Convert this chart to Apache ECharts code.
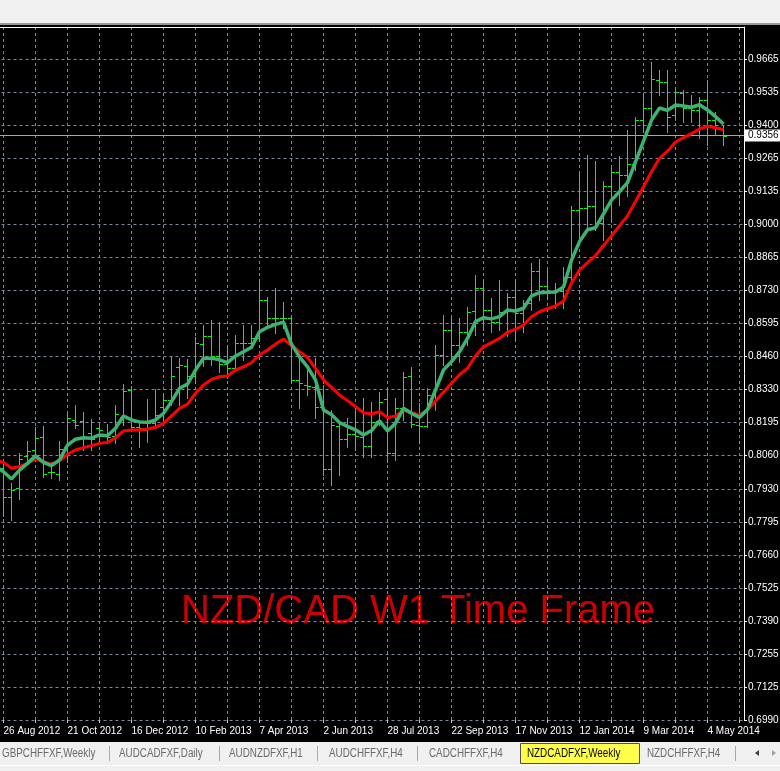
<!DOCTYPE html>
<html>
<head>
<meta charset="utf-8">
<script src="https://cdn.jsdelivr.net/npm/echarts@6/dist/echarts.min.js"></script>
<style>
html,body{margin:0;padding:0;background:#000;}
#c{width:780px;height:771px;}
</style>
</head>
<body>
<div id="c"></div>
<script>
// ---- data (weekly NZD/CAD bars, first entry = week of 19 Aug 2012) ----
const FIRST_WEEK = -1; // week index of first bar, 0 = 26 Aug 2012
const dateLabels = ["26 Aug 2012","21 Oct 2012","16 Dec 2012","10 Feb 2013","7 Apr 2013","2 Jun 2013","28 Jul 2013","22 Sep 2013","17 Nov 2013","12 Jan 2014","9 Mar 2014","4 May 2014"];
const priceLabels = ["0.6990","0.7125","0.7255","0.7390","0.7525","0.7660","0.7795","0.7930","0.8060","0.8195","0.8330","0.8460","0.8595","0.8730","0.8865","0.9000","0.9135","0.9265","0.9400","0.9535","0.9665"];
const priceBase = 0.6990;
const priceStep = 0.013375;
const currentPrice = 0.9356;

const opens = [0.8063,0.8010,0.7893,0.7929,0.8059,0.8083,0.8136,0.7994,0.7986,0.8095,0.8205,0.8201,0.8152,0.8172,0.8148,0.8140,0.8217,0.8326,0.8176,0.8164,0.8192,0.8257,0.8286,0.8419,0.8423,0.8383,0.8512,0.8545,0.8464,0.8431,0.8415,0.8516,0.8516,0.8537,0.8691,0.8618,0.8618,0.8618,0.8367,0.8346,0.8338,0.8257,0.8006,0.8180,0.8128,0.8148,0.8136,0.8099,0.8201,0.8290,0.8071,0.8253,0.8383,0.8184,0.8180,0.8306,0.8468,0.8569,0.8508,0.8561,0.8646,0.8739,0.8650,0.8601,0.8642,0.8703,0.8638,0.8678,0.8808,0.8747,0.8727,0.8727,0.8784,0.9055,0.9063,0.9071,0.9002,0.9152,0.9209,0.9197,0.9241,0.9419,0.9468,0.9581,0.9573,0.9440,0.9529,0.9468,0.9460,0.9500,0.9419,0.9387];
const highs = [0.8083,0.8035,0.7950,0.8071,0.8120,0.8176,0.8180,0.8035,0.8120,0.8229,0.8265,0.8237,0.8209,0.8184,0.8188,0.8265,0.8350,0.8342,0.8197,0.8290,0.8330,0.8314,0.8460,0.8456,0.8452,0.8541,0.8589,0.8610,0.8601,0.8508,0.8549,0.8589,0.8589,0.8776,0.8703,0.8739,0.8682,0.8626,0.8456,0.8407,0.8456,0.8346,0.8245,0.8188,0.8213,0.8253,0.8294,0.8278,0.8318,0.8338,0.8294,0.8399,0.8419,0.8273,0.8334,0.8508,0.8630,0.8618,0.8618,0.8662,0.8792,0.8772,0.8699,0.8772,0.8719,0.8772,0.8691,0.8840,0.8857,0.8824,0.8759,0.8824,0.9071,0.9209,0.9278,0.9253,0.9172,0.9225,0.9274,0.9379,0.9431,0.9520,0.9654,0.9622,0.9622,0.9549,0.9541,0.9520,0.9512,0.9581,0.9452,0.9399];
const lows = [0.7970,0.7816,0.7800,0.7885,0.8031,0.8051,0.7974,0.7970,0.7962,0.8035,0.8172,0.8083,0.8083,0.8116,0.8112,0.8112,0.8184,0.8172,0.8095,0.8116,0.8184,0.8197,0.8265,0.8265,0.8294,0.8354,0.8423,0.8427,0.8399,0.8375,0.8407,0.8448,0.8508,0.8529,0.8589,0.8557,0.8577,0.8359,0.8253,0.8306,0.8213,0.7982,0.7941,0.7982,0.8095,0.8083,0.8055,0.8055,0.8184,0.8035,0.8043,0.8205,0.8176,0.8112,0.8176,0.8245,0.8427,0.8448,0.8440,0.8508,0.8549,0.8569,0.8561,0.8569,0.8545,0.8529,0.8561,0.8650,0.8691,0.8699,0.8658,0.8658,0.8759,0.8933,0.8986,0.8974,0.8933,0.9006,0.9075,0.9112,0.9217,0.9371,0.9431,0.9520,0.9371,0.9419,0.9411,0.9411,0.9346,0.9318,0.9359,0.9318];
const closes = [0.8010,0.7893,0.7921,0.8047,0.8079,0.8132,0.7986,0.7994,0.8087,0.8213,0.8184,0.8136,0.8128,0.8164,0.8136,0.8229,0.8322,0.8176,0.8172,0.8192,0.8225,0.8286,0.8383,0.8427,0.8383,0.8516,0.8545,0.8464,0.8431,0.8415,0.8516,0.8516,0.8537,0.8691,0.8618,0.8618,0.8618,0.8367,0.8354,0.8342,0.8257,0.8006,0.8184,0.8128,0.8148,0.8140,0.8099,0.8197,0.8278,0.8071,0.8253,0.8379,0.8188,0.8180,0.8306,0.8468,0.8569,0.8508,0.8561,0.8642,0.8739,0.8650,0.8601,0.8642,0.8703,0.8638,0.8678,0.8808,0.8747,0.8727,0.8727,0.8784,0.9055,0.9063,0.9071,0.8998,0.9152,0.9209,0.9197,0.9241,0.9419,0.9468,0.9585,0.9573,0.9431,0.9533,0.9468,0.9460,0.9500,0.9419,0.9387,0.9356];
const fastMA = [0.8018,0.7995,0.7966,0.8002,0.8029,0.8060,0.8033,0.8020,0.8043,0.8103,0.8127,0.8133,0.8131,0.8144,0.8141,0.8171,0.8221,0.8205,0.8197,0.8195,0.8205,0.8232,0.8279,0.8333,0.8350,0.8407,0.8455,0.8455,0.8448,0.8437,0.8464,0.8481,0.8499,0.8562,0.8580,0.8592,0.8601,0.8512,0.8460,0.8420,0.8367,0.8245,0.8227,0.8194,0.8179,0.8165,0.8144,0.8162,0.8201,0.8160,0.8191,0.8252,0.8232,0.8215,0.8247,0.8326,0.8407,0.8441,0.8481,0.8535,0.8603,0.8619,0.8614,0.8623,0.8650,0.8646,0.8657,0.8707,0.8720,0.8722,0.8723,0.8743,0.8852,0.8927,0.8975,0.8983,0.9039,0.9095,0.9129,0.9166,0.9250,0.9334,0.9419,0.9468,0.9458,0.9480,0.9476,0.9471,0.9481,0.9460,0.9433,0.9403];
const slowMA = [0.8043,0.8033,0.8009,0.8016,0.8029,0.8046,0.8036,0.8025,0.8039,0.8066,0.8083,0.8093,0.8101,0.8110,0.8114,0.8133,0.8160,0.8164,0.8164,0.8168,0.8175,0.8191,0.8221,0.8252,0.8269,0.8313,0.8346,0.8369,0.8380,0.8383,0.8407,0.8420,0.8437,0.8468,0.8488,0.8512,0.8532,0.8506,0.8481,0.8458,0.8414,0.8367,0.8337,0.8306,0.8283,0.8259,0.8234,0.8229,0.8238,0.8215,0.8220,0.8244,0.8234,0.8225,0.8245,0.8282,0.8318,0.8353,0.8388,0.8414,0.8464,0.8501,0.8518,0.8535,0.8560,0.8572,0.8589,0.8623,0.8643,0.8655,0.8666,0.8686,0.8759,0.8812,0.8842,0.8870,0.8911,0.8950,0.8991,0.9031,0.9089,0.9149,0.9210,0.9264,0.9293,0.9330,0.9348,0.9364,0.9383,0.9394,0.9388,0.9380];
const tabs = ["GBPCHFFXF,Weekly","AUDCADFXF,Daily","AUDNZDFXF,H1","AUDCHFFXF,H4","CADCHFFXF,H4","NZDCADFXF,Weekly","NZDCHFFXF,H4"];
const activeTab = 5;
const titleText = "NZD/CAD W1 Time Frame";

// ---- font selection: narrow face if installed, otherwise Liberation Sans scaled down ----
function hasFont(name) {
  const ctx = document.createElement('canvas').getContext('2d');
  ctx.font = '20px monospace';
  const a = ctx.measureText('26 Aug 2012 WMim').width;
  ctx.font = '20px "' + name + '", monospace';
  const b = ctx.measureText('26 Aug 2012 WMim').width;
  return Math.abs(a - b) > 0.5;
}
const HAS_NARROW = hasFont('Liberation Sans Narrow');
const AXIS_FONT = HAS_NARROW ? '"Liberation Sans Narrow"' : '"Liberation Sans", Arial, sans-serif';
const AXIS_SIZE = HAS_NARROW ? 11 : 10;
const TAB_FONT = HAS_NARROW ? '12px "Liberation Sans Narrow"' : '12px "Liberation Sans", Arial, sans-serif';
const TAB_SCALE = HAS_NARROW ? 1 : 0.82;

// ---- layout / style ----
const GRID_COLOR = '#7d8a9c';
const BAR_COLOR = '#1ee61e';
const PLOT_TOP = 27, PLOT_H = 693, PX_PER_STEP = 33.035;
const GRID_LEFT = -28.5, PLOT_RIGHT = 744, BAR_PX = 8;
const X_MIN = -4;
const X_MAX = X_MIN + (PLOT_RIGHT - GRID_LEFT) / BAR_PX;
const UNITS_MAX = PLOT_H / PX_PER_STEP;
const PRICE_MAX = priceBase + UNITS_MAX * priceStep;

const barData = opens.map((o, i) => [i + FIRST_WEEK, o, highs[i], lows[i], closes[i]]);
const fastData = fastMA.map((v, i) => [i + FIRST_WEEK, v]);
const slowData = slowMA.map((v, i) => [i + FIRST_WEEK, v]);

function renderBar(params, api) {
  const k = api.value(0);
  const pO = api.coord([k, api.value(1)]);
  const pH = api.coord([k, api.value(2)]);
  const pL = api.coord([k, api.value(3)]);
  const pC = api.coord([k, api.value(4)]);
  const x = Math.round(pO[0] - 0.5) + 0.5;
  const s = { stroke: BAR_COLOR, lineWidth: 1 };
  const yo = Math.round(pO[1]) + 0.5, yc = Math.round(pC[1]) + 0.5;
  return { type: 'group', children: [
    { type: 'line', shape: { x1: x, y1: Math.round(pH[1]), x2: x, y2: Math.round(pL[1]) + 1 }, style: s },
    { type: 'line', shape: { x1: x - 3.5, y1: yo, x2: x, y2: yo }, style: s },
    { type: 'line', shape: { x1: x, y1: yc, x2: x + 3.5, y2: yc }, style: s }
  ]};
}

// tab strip graphics
const tabPos = [2, 119, 229, 329, 429, 527, 647];
const sepPos = [109.5, 219.5, 317.5, 417.5, 735.5];
const graphics = [
  { type: 'rect', shape: { x: 0, y: 0, width: 780, height: 23 }, style: { fill: '#f0f0f0' }, silent: true },
  { type: 'rect', shape: { x: 0, y: 23, width: 780, height: 2 }, style: { fill: '#9a9a9a' }, silent: true },
  { type: 'rect', shape: { x: 0, y: 742, width: 780, height: 29 }, style: { fill: '#f0f0f0' }, silent: true },
  { type: 'rect', shape: { x: 0, y: 765, width: 780, height: 1 }, style: { fill: '#ffffff' }, silent: true },
  { type: 'rect', shape: { x: 520.5, y: 743.5, width: 119, height: 20 }, style: { fill: '#ffff4a', stroke: '#505050', lineWidth: 1 }, silent: true },
  { type: 'text', x: 181, y: 612, silent: true,
    style: { text: titleText, fill: '#cc0000', font: '40px "Liberation Sans", Arial, sans-serif', verticalAlign: 'middle', align: 'left' } },
  { type: 'polygon', shape: { points: [[755, 753], [759, 750], [759, 756]] }, style: { fill: '#404040' }, silent: true },
  { type: 'polygon', shape: { points: [[776, 753], [772, 750], [772, 756]] }, style: { fill: '#a0a0a0' }, silent: true }
];
tabs.forEach((t, i) => {
  graphics.push({ type: 'text', x: tabPos[i], y: 753.5, scaleX: TAB_SCALE, silent: true,
    style: { text: t, fill: i === activeTab ? '#000000' : '#6a6a6a', font: TAB_FONT, verticalAlign: 'middle', align: 'left' } });
});
sepPos.forEach(x => {
  graphics.push({ type: 'rect', shape: { x: x - 0.5, y: 746, width: 1, height: 15 }, style: { fill: '#a8a8a8' }, silent: true });
});

const chart = echarts.init(document.getElementById('c'), null, { renderer: 'canvas', width: 780, height: 771 });
chart.setOption({
  animation: false,
  backgroundColor: '#000000',
  grid: { left: GRID_LEFT, top: PLOT_TOP, width: PLOT_RIGHT - GRID_LEFT, height: PLOT_H, containLabel: false, outerBoundsMode: 'none' },
  xAxis: [
    { type: 'value', min: X_MIN, max: X_MAX, interval: 4, position: 'bottom',
      axisLine: { show: false, onZero: false },
      axisTick: { show: true, length: 3, lineStyle: { color: '#c8c8c8' } },
      axisLabel: { color: '#ffffff', fontSize: AXIS_SIZE, fontFamily: AXIS_FONT, align: 'left', margin: 6,
        showMinLabel: false, showMaxLabel: false,
        formatter: v => { const k = Math.round(v); return (k >= 0 && k % 8 === 0 && dateLabels[k / 8]) ? dateLabels[k / 8] : ''; } },
      splitLine: { show: true, showMinLine: false, showMaxLine: false, lineStyle: { color: GRID_COLOR, type: [3, 3], width: 1 } } },
    { type: 'value', min: X_MIN, max: X_MAX, position: 'top',
      axisLine: { show: true, onZero: false, lineStyle: { color: '#ffffff', width: 1 } },
      axisTick: { show: false }, axisLabel: { show: false }, splitLine: { show: false } }
  ],
  yAxis: [
    { type: 'value', min: priceBase, max: PRICE_MAX, position: 'right', scale: true,
      axisLine: { show: true, onZero: false, lineStyle: { color: '#ffffff', width: 1 } },
      axisTick: { show: false }, axisLabel: { show: false }, splitLine: { show: false } },
    { type: 'value', min: 0, max: UNITS_MAX, interval: 1, position: 'right',
      axisLine: { show: false, onZero: false },
      axisTick: { show: true, length: 3, lineStyle: { color: '#ffffff' } },
      axisLabel: { color: '#ffffff', fontSize: AXIS_SIZE, fontFamily: AXIS_FONT, margin: 4, showMaxLabel: false, hideOverlap: false,
        formatter: v => { const k = Math.round(v); return Math.abs(v - k) < 1e-6 && priceLabels[k] ? priceLabels[k] : ''; } },
      splitLine: { show: true, showMaxLine: false, lineStyle: { color: GRID_COLOR, type: [3, 3], width: 1 } } }
  ],
  series: [
    { type: 'custom', name: 'bars', xAxisIndex: 0, yAxisIndex: 0, renderItem: renderBar, data: barData,
      encode: { x: 0, y: [1, 2, 3, 4] }, z: 2, silent: true },
    { type: 'line', name: 'slow', xAxisIndex: 0, yAxisIndex: 0, data: slowData, symbol: 'none', showSymbol: false,
      lineStyle: { color: '#ff0000', width: 3 }, z: 3, silent: true,
      markLine: { silent: true, symbol: ['none', 'none'], animation: false, precision: 4, z: 1,
        lineStyle: { color: '#9ea8b8', width: 1, type: 'solid' },
        label: { show: true, position: 'end', distance: 1, formatter: currentPrice.toFixed(4),
          backgroundColor: '#ffffff', color: '#000000', fontSize: AXIS_SIZE, fontFamily: AXIS_FONT, padding: [1, 6, 1, 3] },
        data: [{ yAxis: currentPrice }] } },
    { type: 'line', name: 'fast', xAxisIndex: 0, yAxisIndex: 0, data: fastData, symbol: 'none', showSymbol: false,
      lineStyle: { color: '#3cb371', width: 3.5 }, z: 4, silent: true }
  ],
  graphic: graphics
});
</script>
</body>
</html>
